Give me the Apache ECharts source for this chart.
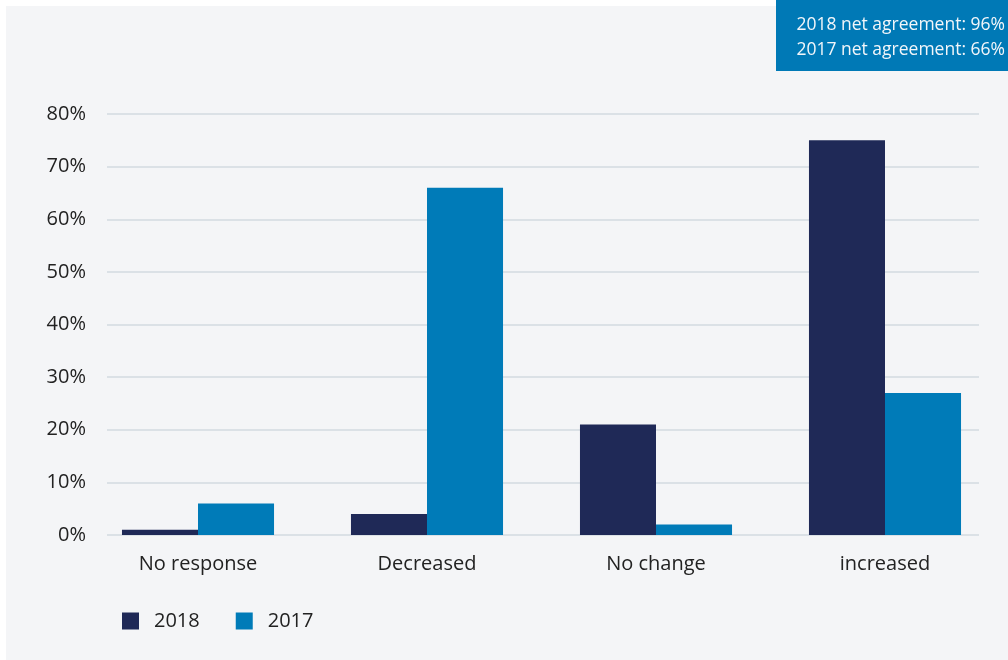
<!DOCTYPE html>
<html>
<head>
<meta charset="utf-8">
<script src="https://cdn.jsdelivr.net/npm/echarts@6/dist/echarts.min.js"></script>
<style>
  html, body { margin: 0; padding: 0; background: #ffffff; }
  #chart { width: 1008px; height: 660px; }
</style>
</head>
<body>
<div id="chart"></div>
<script>
// Survey responses by year
const categories = ['No response', 'Decreased', 'No change', 'increased'];
const values2018 = [1, 4, 21, 75];
const values2017 = [6, 66, 2, 27];
const yTicks = [0, 10, 20, 30, 40, 50, 60, 70, 80];
const noteLines = ['2018 net agreement: 96%', '2017 net agreement: 66%'];

const FONT = '"Open Sans", sans-serif';
const TEXT = '#222222';
const GRID_LINE = '#d3dae1';
const chart = echarts.init(document.getElementById('chart'), null, { renderer: 'canvas' });

const yMin = yTicks[0];
const yMax = yTicks[yTicks.length - 1];

chart.setOption({
  backgroundColor: '#ffffff',
  animation: false,
  textStyle: { fontFamily: FONT },
  graphic: [
    {
      type: 'rect', z: -10, silent: true,
      shape: { x: 6, y: 6, width: 1002, height: 654 },
      style: { fill: '#f4f5f7' }
    },
    {
      type: 'rect', z: 10, silent: true,
      shape: { x: 776, y: 0, width: 232, height: 71 },
      style: { fill: '#0079b6' }
    },
    {
      type: 'text', z: 11, silent: true,
      style: {
        x: 1005, y: 13, text: noteLines.join('\n'),
        align: 'right', verticalAlign: 'top',
        fill: '#f2f6fa', font: '17.5px ' + FONT, lineHeight: 25
      }
    }
  ],
  legend: {
    left: 117, top: 606,
    itemWidth: 17, itemHeight: 17, itemGap: 36,
    icon: 'rect',
    textStyle: { fontSize: 20, color: TEXT, fontFamily: FONT, padding: [0, 0, 0, 10] },
    data: ['2018', '2017']
  },
  grid: [
    // gridlines and value labels
    { left: 107, right: 29, top: 114, bottom: 125 },
    // bars and category labels
    { left: 83.5, right: 8.5, top: 114, bottom: 125 }
  ],
  xAxis: [
    { type: 'value', gridIndex: 0, show: false, min: 0, max: 1 },
    {
      type: 'category', gridIndex: 1,
      data: categories,
      axisLine: { show: false },
      axisTick: { show: false },
      splitLine: { show: false },
      axisLabel: { fontSize: 20, color: TEXT, margin: 19, fontFamily: FONT }
    }
  ],
  yAxis: [
    {
      type: 'value', gridIndex: 0,
      min: yMin, max: yMax, interval: 10,
      axisLine: { show: false },
      axisTick: { show: false },
      splitLine: { lineStyle: { color: GRID_LINE, width: 1.5 } },
      axisLabel: { fontSize: 20, color: TEXT, margin: 21, fontFamily: FONT,
        formatter: v => v + '%' }
    },
    {
      type: 'value', gridIndex: 1, show: false,
      min: yMin, max: yMax, interval: 10,
      splitLine: { show: false }
    }
  ],
  series: [
    {
      name: '2018', type: 'bar', data: values2018,
      xAxisIndex: 1, yAxisIndex: 1,
      barGap: '0%', barCategoryGap: '33.6%',
      itemStyle: { color: '#1f2957' }
    },
    {
      name: '2017', type: 'bar', data: values2017,
      xAxisIndex: 1, yAxisIndex: 1,
      barGap: '0%', barCategoryGap: '33.6%',
      itemStyle: { color: '#007bb8' }
    }
  ]
});
</script>
</body>
</html>
